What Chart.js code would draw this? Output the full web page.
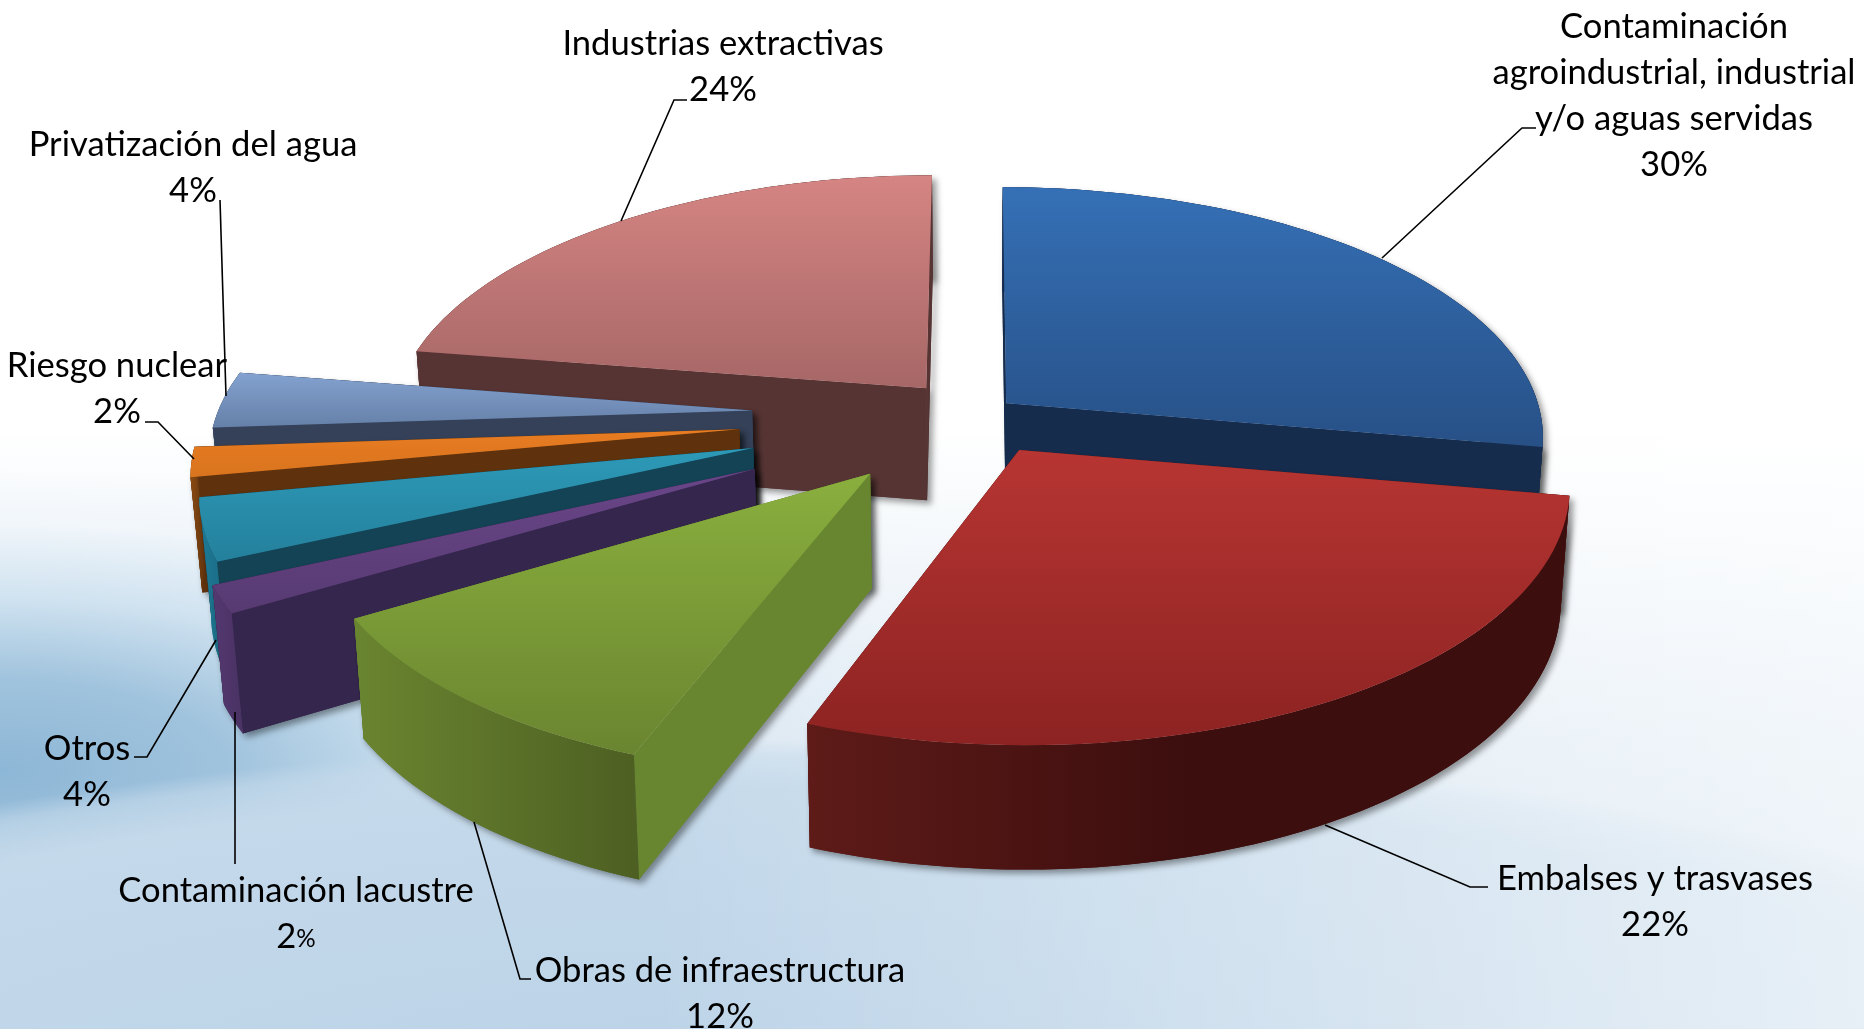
<!DOCTYPE html>
<html lang="es">
<head>
<meta charset="utf-8">
<title>Conflictos por el agua</title>
<script src="https://cdn.jsdelivr.net/npm/chart.js@4"></script>
<style>
    html, body { margin: 0; padding: 0; width: 1864px; height: 1029px; overflow: hidden; }
    body {
        background:
            linear-gradient(90deg, rgba(255,255,255,0) 35%, rgba(255,255,255,0.6) 100%),
            radial-gradient(ellipse 1500px 410px at 800px 1150px, #b9d1e7 0%, #c4d9ea 88%, rgba(198,218,235,0.6) 96%, rgba(198,218,235,0) 100%),
            radial-gradient(ellipse 760px 300px at 0px 770px, #8db7d6 0%, #a0c3dd 30%, rgba(200,222,238,0.75) 58%, rgba(235,243,249,0.4) 82%, rgba(255,255,255,0) 100%),
            linear-gradient(180deg, #ffffff 0%, #ffffff 42%, #dde9f3 72%, #c8dbeb 100%);
    }
    canvas { display: block; }
</style>
</head>
<body>
<canvas id="pieChart" width="1864" height="1029"></canvas>
<script>
// Slices in clockwise order from 12 o'clock
const categories = [
    'Contaminación agroindustrial, industrial y/o aguas servidas',
    'Embalses y trasvases',
    'Obras de infraestructura',
    'Contaminación lacustre',
    'Otros',
    'Riesgo nuclear',
    'Privatización del agua',
    'Industrias extractivas'
];

// Share of the circle each wedge really takes in the picture
const sliceShares = [27.8, 27.9, 10.7, 1.7, 3.9, 1.9, 3.6, 22.5];

// Percentages as they are printed on the labels
const percentLabels = ['30%', '22%', '12%', '2%', '4%', '2%', '4%', '24%'];

// Explosion of each slice, in percent of the radius
const sliceExplode = [7.4, 16, 30, 45.5, 43, 44.3, 42, 14.5];

// Top face (upper, lower), radial wall, outer wall (evenly spread left to right)
const topColors = [
    ['#3570b6', '#275086'], ['#b73532', '#8c2322'], ['#8aaf3e', '#6a8530'], ['#6a4689', '#573a72'],
    ['#2d9ab8', '#24809c'], ['#e87c22', '#d9741e'], ['#84a2d0', '#6580a8'], ['#d58583', '#a66766']
];
const radialColors = ['#162c4d', '#5e1a18', '#688630', '#35264d', '#134355', '#5f320d', '#344158', '#573434'];
const outerColors = [
    ['#1d3a63', '#162c4d'], ['#5e1b18', '#3c0e0e', '#3c0e0e'], ['#6a8530', '#4d5f22'], ['#53386f', '#4a3264'],
    ['#1e7a96', '#1a6a82'], ['#8a4a12', '#5f320d'], ['#4a5d7c', '#344158'], ['#6b4040', '#573434']
];

// Back to front
const drawOrder = [7, 6, 0, 5, 4, 3, 2, 1];

// Perspective of the pie plane
const view = { x: 976, y: 415, sx: 535, sy: 247, tilt: 0.13, depth: 113, depthTilt: 0.08, taper: 0.985 };

// Label text lines and their centre points
const labelLines = [
    ['Contaminación', 'agroindustrial, industrial', 'y/o aguas servidas'],
    ['Embalses y trasvases'],
    ['Obras de infraestructura'],
    ['Contaminación lacustre'],
    ['Otros'],
    ['Riesgo nuclear'],
    ['Privatización del agua'],
    ['Industrias extractivas']
];
const labelAnchors = [[1674, 27], [1655, 879], [720, 971], [296, 891], [87, 749], [117, 366], [193, 145], [723, 44]];
const labelLineGap = 46;
const labelFont = 'Lato, "Open Sans", sans-serif';
const labelSize = 34.6;

const leaderLines = [
    [[1382, 258], [1522, 128], [1536, 128]],
    [[1325, 825], [1470, 887], [1488, 887]],
    [[474, 822], [520, 979], [531, 979]],
    [[235, 712], [235, 864]],
    [[216, 640], [147, 757], [134, 757]],
    [[194, 459], [158, 422], [145, 422]],
    [[226, 396], [220, 200]],
    [[621, 221], [674, 100], [687, 100]]
];

function projectPoint(px, py, bottom) {
    const w = 1 - view.tilt * py;
    let x = view.sx * px / w;
    let y = view.sy * py / w;
    if (bottom) {
        x *= view.taper;
        y += view.depth / (1 - view.depthTilt * py);
    }
    return [view.x + x, view.y + y];
}

function tracePath(ctx, points) {
    ctx.beginPath();
    points.forEach((p, i) => (i ? ctx.lineTo(p[0], p[1]) : ctx.moveTo(p[0], p[1])));
    ctx.closePath();
}

function gradientFor(ctx, points, colors, horizontal) {
    const xs = points.map(p => p[0]);
    const ys = points.map(p => p[1]);
    const grad = horizontal
        ? ctx.createLinearGradient(Math.min(...xs), 0, Math.max(...xs), 0)
        : ctx.createLinearGradient(0, Math.min(...ys), 0, Math.max(...ys));
    colors.forEach((c, i) => grad.addColorStop(i / (colors.length - 1), c));
    return grad;
}

// Builds the faces of one slice from the angles Chart.js gave its arc
function sliceFaces(ctx, arc, index) {
    const mid = (arc.startAngle + arc.endAngle) / 2;
    const explode = arc.options.offset / 100;
    const ox = Math.cos(mid) * explode;
    const oy = Math.sin(mid) * explode;
    const steps = Math.max(4, Math.ceil((arc.endAngle - arc.startAngle) / 0.03));

    const rim = [];
    for (let i = 0; i <= steps; i++) {
        const a = arc.startAngle + (arc.endAngle - arc.startAngle) * i / steps;
        rim.push([ox + Math.cos(a), oy + Math.sin(a)]);
    }
    const rimTop = rim.map(p => projectPoint(p[0], p[1], false));
    const rimBottom = rim.map(p => projectPoint(p[0], p[1], true));
    const apexTop = projectPoint(ox, oy, false);
    const apexBottom = projectPoint(ox, oy, true);

    const meanY = pts => pts.reduce((s, p) => s + p[1], 0) / pts.length;
    const outer = rimTop.concat(rimBottom.slice().reverse());
    const walls = [
        { points: outer, order: meanY(rimTop), fill: gradientFor(ctx, outer, outerColors[index], true) },
        {
            points: [apexTop, rimTop[0], rimBottom[0], apexBottom],
            order: meanY([apexTop, rimTop[0]]),
            fill: radialColors[index]
        },
        {
            points: [apexTop, rimTop[steps], rimBottom[steps], apexBottom],
            order: meanY([apexTop, rimTop[steps]]),
            fill: radialColors[index]
        }
    ].sort((a, b) => a.order - b.order);

    const top = [apexTop].concat(rimTop);
    return { walls, top, topFill: gradientFor(ctx, top, topColors[index], false) };
}

const pie3d = {
    id: 'pie3d',
    // Replaces the flat arcs by the extruded ones
    beforeDatasetsDraw(chart) {
        const ctx = chart.ctx;
        const arcs = chart.getDatasetMeta(0).data;
        drawOrder.forEach(index => {
            const faces = sliceFaces(ctx, arcs[index], index);

            // Soft shadow under the whole slice
            ctx.save();
            ctx.shadowColor = 'rgba(0, 0, 0, 0.4)';
            ctx.shadowBlur = 6;
            ctx.shadowOffsetX = 4;
            ctx.shadowOffsetY = 4;
            faces.walls.forEach(face => {
                tracePath(ctx, face.points);
                ctx.fillStyle = face.fill;
                ctx.fill();
            });
            ctx.restore();

            faces.walls.forEach(face => {
                tracePath(ctx, face.points);
                ctx.fillStyle = face.fill;
                ctx.fill();
            });
            tracePath(ctx, faces.top);
            ctx.fillStyle = faces.topFill;
            ctx.fill();
        });
        return false;
    },
    afterDraw(chart) {
        const ctx = chart.ctx;
        ctx.save();

        // Leader lines
        ctx.strokeStyle = '#000000';
        ctx.lineWidth = 1.6;
        leaderLines.forEach(line => {
            ctx.beginPath();
            line.forEach((p, i) => (i ? ctx.lineTo(p[0], p[1]) : ctx.moveTo(p[0], p[1])));
            ctx.stroke();
        });

        // Labels
        ctx.fillStyle = '#000000';
        ctx.textBaseline = 'middle';
        labelLines.forEach((lines, i) => {
            const [x, y] = labelAnchors[i];
            ctx.textAlign = 'center';
            ctx.font = `${labelSize}px ${labelFont}`;
            lines.forEach((text, n) => ctx.fillText(text, x, y + n * labelLineGap));
            const py = y + lines.length * labelLineGap;
            if (categories[i] === 'Contaminación lacustre') {
                // This one has a smaller percent sign
                const digit = percentLabels[i].replace('%', '');
                const digitWidth = ctx.measureText(digit).width;
                ctx.font = `${labelSize * 0.7}px ${labelFont}`;
                const signWidth = ctx.measureText('%').width;
                const left = x - (digitWidth + signWidth) / 2;
                ctx.textAlign = 'left';
                ctx.fillText('%', left + digitWidth, py + 2);
                ctx.font = `${labelSize}px ${labelFont}`;
                ctx.fillText(digit, left, py);
            } else {
                ctx.fillText(percentLabels[i], x, py);
            }
        });
        ctx.restore();
    }
};

new Chart(document.getElementById('pieChart').getContext('2d'), {
    type: 'pie',
    data: {
        labels: categories,
        datasets: [{
            data: sliceShares,
            offset: sliceExplode,
            backgroundColor: topColors.map(c => c[0]),
            borderWidth: 0
        }]
    },
    options: {
        responsive: false,
        animation: false,
        plugins: {
            legend: { display: false },
            tooltip: { enabled: false }
        }
    },
    plugins: [pie3d]
});
</script>
</body>
</html>
